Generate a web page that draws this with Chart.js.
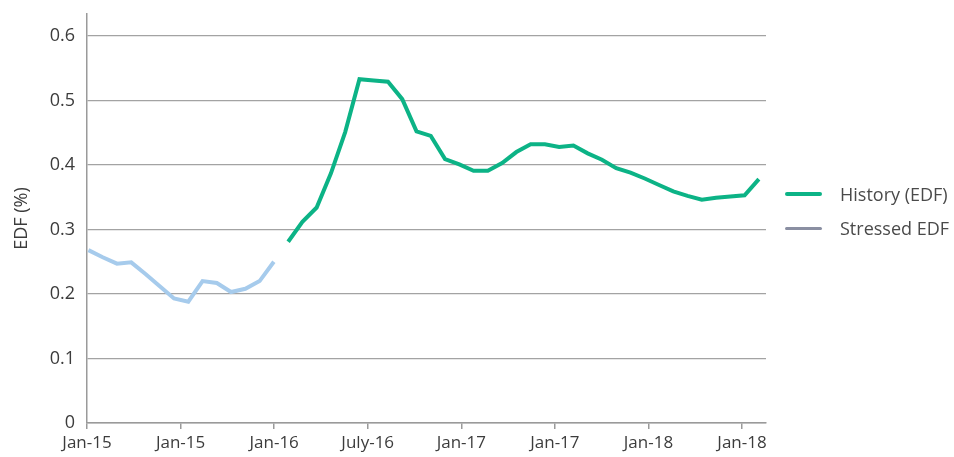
<!DOCTYPE html>
<html>
<head>
<meta charset="utf-8">
<script src="https://cdn.jsdelivr.net/npm/chart.js@4"></script>
<style>
    body { margin: 0; background: #fff; font-family: "Open Sans", sans-serif; }
    #wrap { position: relative; width: 954px; height: 457px; }
    #legend { position: absolute; left: 785px; top: 177px; color: #4a4a4a; font-size: 18px; }
    #legend .item { display: flex; align-items: center; height: 34px; }
    #legend .swatch { width: 37px; margin-right: 18px; border-radius: 2px; }
</style>
</head>
<body>
<div id="wrap">
    <canvas id="edfChart" width="954" height="457"></canvas>
    <div id="legend"></div>
</div>
<script>
// x = month index, blue series starts at 0, green history follows right after
const earlyValues = [0.268, 0.257, 0.247, 0.249, 0.231, 0.212, 0.193, 0.188, 0.220, 0.217, 0.203, 0.208, 0.220, 0.250];
const historyValues = [0.281, 0.312, 0.334, 0.387, 0.451, 0.533, 0.531, 0.529, 0.502, 0.452,
    0.445, 0.409, 0.401, 0.391, 0.391, 0.403, 0.420, 0.432, 0.432, 0.428,
    0.430, 0.418, 0.408, 0.395, 0.388, 0.379, 0.369, 0.359, 0.352, 0.346,
    0.349, 0.351, 0.353, 0.378];
const xTickLabels = ["Jan-15", "Jan-15", "Jan-16", "July-16", "Jan-17", "Jan-17", "Jan-18", "Jan-18"];
const yTicks = [0, 0.1, 0.2, 0.3, 0.4, 0.5, 0.6];
const legendLabels = ["History (EDF)", "Stressed EDF"];

const labelStep = 6.56;
const historyStart = earlyValues.length;

const earlyPoints = earlyValues.map((v, i) => ({ x: i, y: v }));
const historyPoints = historyValues.map((v, i) => ({ x: historyStart + i, y: v }));

const legendColors = ["#0cb386", "#8a8fa2"];
const legendThickness = [4, 3];

const ctx = document.getElementById("edfChart").getContext("2d");

new Chart(ctx, {
    type: "line",
    data: {
        datasets: [{
            label: legendLabels[0],
            data: historyPoints,
            borderColor: "#0cb386",
            borderWidth: 4,
            pointRadius: 0,
            tension: 0
        }, {
            label: "early",
            data: earlyPoints,
            borderColor: "#a6cbec",
            borderWidth: 4,
            pointRadius: 0,
            tension: 0
        }]
    },
    options: {
        responsive: false,
        animation: false,
        layout: { padding: { top: 14, right: 188, left: 0, bottom: 0 } },
        plugins: {
            legend: { display: false },
            tooltip: { enabled: false }
        },
        scales: {
            x: {
                type: "linear",
                min: -0.1,
                max: 47.5,
                afterBuildTicks: function (scale) {
                    scale.ticks = xTickLabels.map((l, k) => ({ value: -0.1 + k * labelStep }));
                },
                afterFit: function (scale) { scale.height = 34; },
                ticks: {
                    autoSkip: false,
                    maxRotation: 0,
                    padding: 4,
                    color: "#3c3c3c",
                    font: { family: "Open Sans", size: 17 },
                    callback: function (value, index) { return xTickLabels[index]; }
                },
                grid: {
                    drawOnChartArea: false,
                    drawTicks: true,
                    tickLength: 6,
                    color: "#9a9a9a",
                    lineWidth: 1.5
                },
                border: { display: true, color: "#9a9a9a", width: 1.5 }
            },
            y: {
                min: 0,
                max: 0.634,
                afterBuildTicks: function (scale) {
                    scale.ticks = yTicks.map(v => ({ value: v }));
                },
                afterFit: function (scale) {
                    scale.width = 87;
                    scale.paddingTop = 0;
                    scale.paddingBottom = 0;
                },
                title: {
                    display: true,
                    text: "EDF (%)",
                    color: "#3c3c3c",
                    padding: { top: 11 },
                    font: { family: "Open Sans", size: 18 }
                },
                ticks: {
                    padding: 12,
                    color: "#3c3c3c",
                    font: { family: "Open Sans", size: 18 },
                    callback: function (value) { return value === 0 ? "0" : value.toFixed(1); }
                },
                grid: {
                    drawTicks: false,
                    color: "#a3a3a3",
                    lineWidth: 1.2
                },
                border: { display: true, color: "#9a9a9a", width: 1.5 }
            }
        }
    }
});

// legend on the right
const legend = document.getElementById("legend");
legendLabels.forEach(function (label, i) {
    const item = document.createElement("div");
    item.className = "item";
    const swatch = document.createElement("span");
    swatch.className = "swatch";
    swatch.style.background = legendColors[i];
    swatch.style.height = legendThickness[i] + "px";
    const text = document.createElement("span");
    text.textContent = label;
    item.appendChild(swatch);
    item.appendChild(text);
    legend.appendChild(item);
});
</script>
</body>
</html>
